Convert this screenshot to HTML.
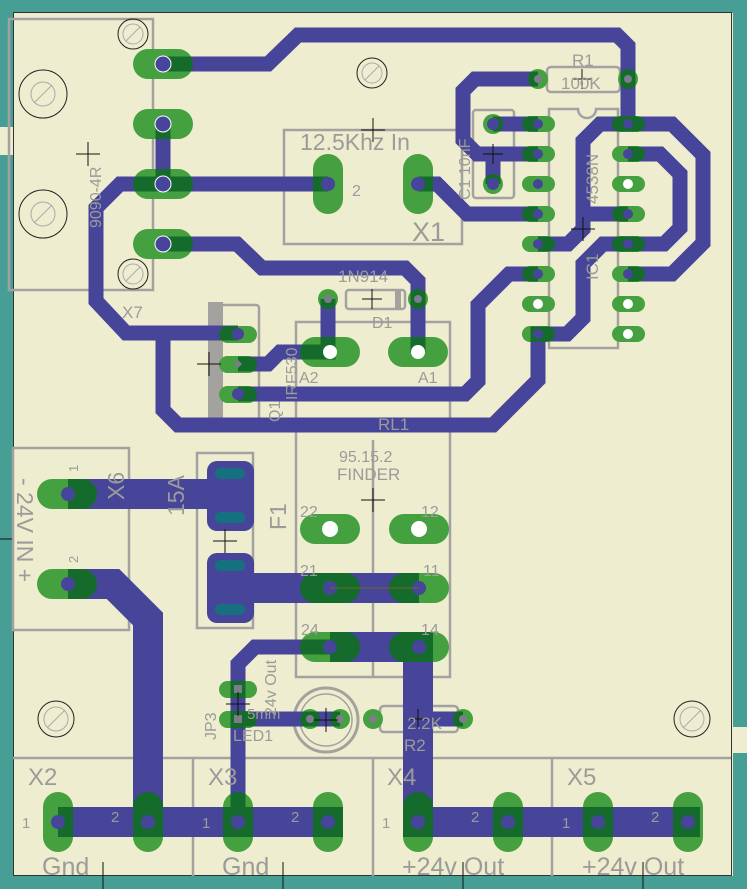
<!DOCTYPE html>
<html><head><meta charset="utf-8"><style>
html,body{margin:0;padding:0;background:#eeedd0;}
svg{display:block;}
text{font-family:"Liberation Sans",sans-serif;fill:#9b9b99;}
</style></head><body>
<svg width="747" height="889" viewBox="0 0 747 889" xmlns="http://www.w3.org/2000/svg">
<defs>
<g id="pads">
  <rect x="133" y="49" width="60" height="30" rx="15"/>
  <rect x="133" y="109" width="60" height="30" rx="15"/>
  <rect x="133" y="169" width="60" height="30" rx="15"/>
  <rect x="133" y="229" width="60" height="30" rx="15"/>
  <rect x="313" y="154" width="30" height="60" rx="15"/>
  <rect x="403" y="154" width="30" height="60" rx="15"/>
  <circle cx="538" cy="79" r="10"/><circle cx="628" cy="79" r="10"/>
  <circle cx="493" cy="124" r="10"/><circle cx="493" cy="184" r="10"/>
  <circle cx="328" cy="299" r="10"/><circle cx="418" cy="299" r="10"/>
  <g>
  <rect x="522" y="116" width="33" height="16" rx="8"/><rect x="522" y="146" width="33" height="16" rx="8"/>
  <rect x="522" y="176" width="33" height="16" rx="8"/><rect x="522" y="206" width="33" height="16" rx="8"/>
  <rect x="522" y="236" width="33" height="16" rx="8"/><rect x="522" y="266" width="33" height="16" rx="8"/>
  <rect x="522" y="296" width="33" height="16" rx="8"/><rect x="522" y="326" width="33" height="16" rx="8"/>
  <rect x="612" y="116" width="33" height="16" rx="8"/><rect x="612" y="146" width="33" height="16" rx="8"/>
  <rect x="612" y="176" width="33" height="16" rx="8"/><rect x="612" y="206" width="33" height="16" rx="8"/>
  <rect x="612" y="236" width="33" height="16" rx="8"/><rect x="612" y="266" width="33" height="16" rx="8"/>
  <rect x="612" y="296" width="33" height="16" rx="8"/><rect x="612" y="326" width="33" height="16" rx="8"/>
  </g>
  <rect x="300" y="337" width="60" height="30" rx="15"/>
  <rect x="388" y="337" width="60" height="30" rx="15"/>
  <rect x="219" y="326" width="38" height="17" rx="8.5"/>
  <rect x="219" y="356" width="38" height="17" rx="8.5"/>
  <rect x="219" y="386" width="38" height="17" rx="8.5"/>
  <rect x="300" y="514" width="60" height="30" rx="15"/><rect x="389" y="514" width="60" height="30" rx="15"/>
  <rect x="300" y="573" width="60" height="30" rx="15"/><rect x="389" y="573" width="60" height="30" rx="15"/>
  <rect x="300" y="632" width="60" height="30" rx="15"/><rect x="389" y="632" width="60" height="30" rx="15"/>
  <rect x="37" y="479" width="60" height="30" rx="15"/>
  <rect x="37" y="569" width="60" height="30" rx="15"/>
  <rect x="219" y="681" width="38" height="17" rx="8.5"/>
  <rect x="219" y="711" width="38" height="17" rx="8.5"/>
  <circle cx="310" cy="719" r="10"/><circle cx="340" cy="719" r="10"/>
  <circle cx="373" cy="719" r="10"/><circle cx="463" cy="719" r="10"/>
  <rect x="43" y="792" width="30" height="60" rx="15"/><rect x="133" y="792" width="30" height="60" rx="15"/>
  <rect x="223" y="792" width="30" height="60" rx="15"/><rect x="313" y="792" width="30" height="60" rx="15"/>
  <rect x="403" y="792" width="30" height="60" rx="15"/><rect x="493" y="792" width="30" height="60" rx="15"/>
  <rect x="583" y="792" width="30" height="60" rx="15"/><rect x="673" y="792" width="30" height="60" rx="15"/>
</g>
<g id="tr" fill="none" stroke-linejoin="miter">
  <g stroke-width="15">
  <path d="M163 64 H268 L298 35 H617 L628 46 V124"/>
  <path d="M163 124 V184 H328"/>
  <path d="M163 184 H120 L96 208 V301 L126 333 H238"/>
  <path d="M163 333 V410 L178 425 H493 L538 380 V334 H567 L583 318 V264 L603 244 H628"/>
  <path d="M163 244 H237 L262 268 H405 L418 281 V352"/>
  <path d="M328 299 V352 H280 L268 364 H238"/>
  <path d="M238 394 H465 L478 381 V305 L509 274 H538"/>
  <path d="M418 184 H437 L467 214 H538"/>
  <path d="M493 124 H538"/>
  <path d="M538 79 H475 L463 91 V140 L477 154 H538"/>
  <path d="M493 154 V184"/>
  <path d="M538 244 H568 L583 229 V141 L600 124 H672 L703 155 V243 L672 274 H628"/>
  <path d="M583 214 H628"/>
  <path d="M628 154 H660 L680 174 V228 L664 244 H628"/>
  <path d="M238 822 V664 L255 647 H330"/>
  <path d="M238 719 H340"/>
  <path d="M418 719 H463"/>
  </g>
  <g stroke-width="30">
  <path d="M68 494 H230"/>
  <path d="M68 584 H113 L148 619 V822"/>
  <path d="M58 822 H343"/>
  <path d="M230 588 H419"/>
  <path d="M330 647 H418 V822 H700"/>
  </g>
</g>
<mask id="m"><use href="#tr" stroke="#fff"/></mask>
</defs>

<rect x="0" y="0" width="747" height="13" fill="#479e95"/>
<rect x="0" y="0" width="13" height="127" fill="#479e95"/>
<rect x="0" y="155" width="13" height="734" fill="#479e95"/>
<rect x="733" y="0" width="14" height="727" fill="#479e95"/>
<rect x="733" y="753" width="14" height="136" fill="#479e95"/>
<rect x="0" y="876" width="747" height="13" fill="#479e95"/>
<rect x="13.5" y="12.5" width="718" height="863" fill="#eeedd0" stroke="#333" stroke-width="1"/>

<g fill="none" stroke="#a3a29e" stroke-width="2.5">
  <rect x="9" y="19" width="144" height="271"/>
  <rect x="284" y="130" width="178" height="114"/>
  <rect x="473" y="110" width="41" height="88" rx="3"/>
  <path d="M549 109 H578 A9 9 0 0 0 596 109 H618 V348 H549 Z"/>
  <rect x="547" y="67" width="73" height="25" rx="4"/>
  <rect x="346" y="290" width="59" height="19" rx="3"/>
  <rect x="296" y="322" width="154" height="355"/>
  <path d="M373 440 V677"/>
  <rect x="218" y="305" width="41" height="120" rx="3"/>
  <rect x="13" y="448" width="116" height="182"/>
  <rect x="197" y="453" width="56" height="175"/>
  <rect x="380" y="706" width="78" height="26" rx="4"/>
  <circle cx="326" cy="720" r="32" stroke-width="3"/>
  <circle cx="326" cy="720" r="26" stroke-width="1.5"/>
  <path d="M13 758 H731 M193 758 V876 M373 758 V876 M552 758 V876"/>
</g>
<rect x="208" y="302" width="15" height="125" fill="#a3a29e"/>
<rect x="395" y="290" width="6" height="19" fill="#a3a29e"/>

<g fill="none" stroke="#222" stroke-width="1">
  <circle cx="133" cy="34" r="15"/><circle cx="133" cy="274" r="15"/>
  <circle cx="43" cy="94" r="24"/><circle cx="43" cy="214" r="24"/>
  <circle cx="372" cy="73" r="15"/><circle cx="56" cy="719" r="18"/><circle cx="692" cy="719" r="18"/>
</g>
<g fill="none" stroke="#aaa" stroke-width="1">
  <circle cx="133" cy="34" r="10"/><circle cx="133" cy="274" r="10"/>
  <circle cx="43" cy="94" r="12"/><circle cx="43" cy="214" r="12"/>
  <circle cx="372" cy="73" r="10"/><circle cx="56" cy="719" r="12"/><circle cx="692" cy="719" r="12"/>
  <path d="M126 41 L140 27 M126 281 L140 267 M34 103 L52 85 M34 223 L52 205 M365 80 L379 66 M47 728 L65 710 M683 728 L701 710"/>
</g>

<use href="#pads" fill="#45a03f"/>
<use href="#tr" stroke="#46459a"/>
<use href="#pads" fill="#156b2c" mask="url(#m)"/>

<rect x="207" y="461" width="47" height="70" rx="10" fill="#46459a"/>
<rect x="207" y="553" width="47" height="70" rx="10" fill="#46459a"/>
<g fill="#17707f">
<rect x="215" y="468" width="30" height="11" rx="5"/><rect x="215" y="512" width="30" height="11" rx="5"/>
<rect x="215" y="560" width="30" height="11" rx="5"/><rect x="215" y="604" width="30" height="11" rx="5"/>
</g>

<g fill="#46459a" stroke="#fff" stroke-width="1">
  <circle cx="163" cy="64" r="8"/><circle cx="163" cy="124" r="8"/><circle cx="163" cy="184" r="8"/><circle cx="163" cy="244" r="8"/>
</g>
<g fill="#46459a">
  <circle cx="328" cy="184" r="7"/><circle cx="418" cy="184" r="7"/>
  <circle cx="538" cy="124" r="5"/><circle cx="538" cy="154" r="5"/><circle cx="538" cy="184" r="5"/><circle cx="538" cy="214" r="5"/>
  <circle cx="538" cy="244" r="5"/><circle cx="538" cy="274" r="5"/><circle cx="538" cy="334" r="5"/>
  <circle cx="628" cy="124" r="5"/><circle cx="628" cy="154" r="5"/><circle cx="628" cy="214" r="5"/><circle cx="628" cy="244" r="5"/><circle cx="628" cy="274" r="5"/>
  <circle cx="493" cy="124" r="6"/><circle cx="493" cy="184" r="6"/>
  <circle cx="238" cy="334" r="6"/><circle cx="238" cy="394" r="6"/>
  <circle cx="68" cy="494" r="7"/><circle cx="68" cy="584" r="7"/>
  <circle cx="330" cy="588" r="7"/><circle cx="419" cy="588" r="7"/><circle cx="330" cy="647" r="7"/><circle cx="419" cy="647" r="7"/>
  <circle cx="58" cy="822" r="7"/><circle cx="148" cy="822" r="7"/><circle cx="238" cy="822" r="7"/><circle cx="328" cy="822" r="7"/>
  <circle cx="418" cy="822" r="7"/><circle cx="508" cy="822" r="7"/><circle cx="598" cy="822" r="7"/><circle cx="688" cy="822" r="7"/>
</g>
<g fill="#fff">
  <circle cx="538" cy="304" r="5"/><circle cx="628" cy="184" r="5"/><circle cx="628" cy="304" r="5"/><circle cx="628" cy="334" r="5"/>
  <circle cx="330" cy="352" r="7"/><circle cx="418" cy="352" r="7"/>
  <circle cx="330" cy="529" r="8"/><circle cx="419" cy="529" r="8"/>
</g>
<g fill="#7c7c8a">
  <circle cx="538" cy="79" r="4"/><circle cx="628" cy="79" r="4"/><circle cx="328" cy="299" r="4"/><circle cx="418" cy="299" r="4"/>
  <circle cx="310" cy="719" r="4"/><circle cx="340" cy="719" r="4"/><circle cx="373" cy="719" r="4"/><circle cx="463" cy="719" r="4"/>
  <rect x="234" y="685" width="8" height="8"/><rect x="234" y="715" width="8" height="8"/>
  <path d="M238 360 L242 364 L238 368 L234 364 Z"/>
</g>
<path d="M330 588 H419" stroke="#6e6a1e" stroke-width="1"/>

<g stroke="#111" stroke-width="1">
  <path d="M76 154 H100 M88 142 V166"/>
  <path d="M361 130 H385 M373 118 V142"/>
  <path d="M483 154 H503 M493 144 V164"/>
  <path d="M572 79 H592 M582 69 V89"/>
  <path d="M571 229 H595 M583 217 V241"/>
  <path d="M362 299 H382 M372 289 V309"/>
  <path d="M197 364 H221 M209 352 V376"/>
  <path d="M361 500 H385 M373 488 V512"/>
  <path d="M213 541 H237 M225 529 V553"/>
  <path d="M226 704 H250 M238 692 V716"/>
  <path d="M314 720 H338 M326 708 V732"/>
  <path d="M408 719 H428 M418 709 V729"/>
  <path d="M0 539 H12"/>
  <path d="M103 862 V889 M283 862 V889 M463 862 V889 M643 862 V889"/>
</g>

<text x="300" y="150" font-size="23">12.5Khz In</text>
<text x="412" y="241" font-size="27">X1</text>
<text x="352" y="196" font-size="16">2</text>
<text x="572" y="66" font-size="17">R1</text>
<text x="561" y="89" font-size="17">100K</text>
<text x="122" y="318" font-size="17">X7</text>
<text x="338" y="282" font-size="17">1N914</text>
<text x="372" y="328" font-size="16">D1</text>
<text x="299" y="383" font-size="16">A2</text>
<text x="418" y="383" font-size="16">A1</text>
<text x="378" y="430" font-size="17">RL1</text>
<text x="339" y="462" font-size="16">95.15.2</text>
<text x="337" y="480" font-size="17">FINDER</text>
<text x="300" y="517" font-size="16">22</text><text x="421" y="517" font-size="16">12</text>
<text x="300" y="576" font-size="16">21</text><text x="423" y="576" font-size="16">11</text>
<text x="301" y="635" font-size="16">24</text><text x="421" y="635" font-size="16">14</text>
<text x="407" y="729" font-size="17">2.2K</text>
<text x="404" y="751" font-size="17">R2</text>
<text x="233" y="741" font-size="16">LED1</text>
<text x="247" y="719" font-size="15">5mm</text>
<g font-size="16">
<text transform="translate(101,228) rotate(-90)">9090-4R</text>
<text transform="translate(297,400) rotate(-90)">IRF530</text>
<text transform="translate(280,422) rotate(-90)">Q1</text>
<text transform="translate(470,200) rotate(-90)">C1 10nF</text>
<text transform="translate(598,204) rotate(-90)" font-size="17">4538N</text>
<text transform="translate(598,280) rotate(-90)" font-size="17">IC1</text>
<text transform="translate(276,716) rotate(-90)">24v Out</text>
<text transform="translate(216,740) rotate(-90)">JP3</text>
<text transform="translate(78,472) rotate(-90)" font-size="13">1</text>
<text transform="translate(78,563) rotate(-90)" font-size="13">2</text>
<text transform="translate(124,500) rotate(-90)" font-size="23">X6</text>
<text transform="translate(184,516) rotate(-90)" font-size="23">15A</text>
<text transform="translate(286,530) rotate(-90)" font-size="23">F1</text>
<text transform="translate(17,478) rotate(90)" font-size="23">- 24V IN +</text>
</g>
<g font-size="24">
<text x="28" y="785">X2</text><text x="208" y="785">X3</text><text x="387" y="785">X4</text><text x="567" y="785">X5</text>
</g>
<g font-size="15">
<text x="22" y="828">1</text><text x="111" y="822">2</text>
<text x="202" y="828">1</text><text x="291" y="822">2</text>
<text x="382" y="828">1</text><text x="471" y="822">2</text>
<text x="562" y="828">1</text><text x="651" y="822">2</text>
</g>
<g font-size="25">
<text x="42" y="875">Gnd</text><text x="222" y="875">Gnd</text>
<text x="402" y="875">+24v Out</text><text x="582" y="875">+24v Out</text>
</g>
</svg>
</body></html>
